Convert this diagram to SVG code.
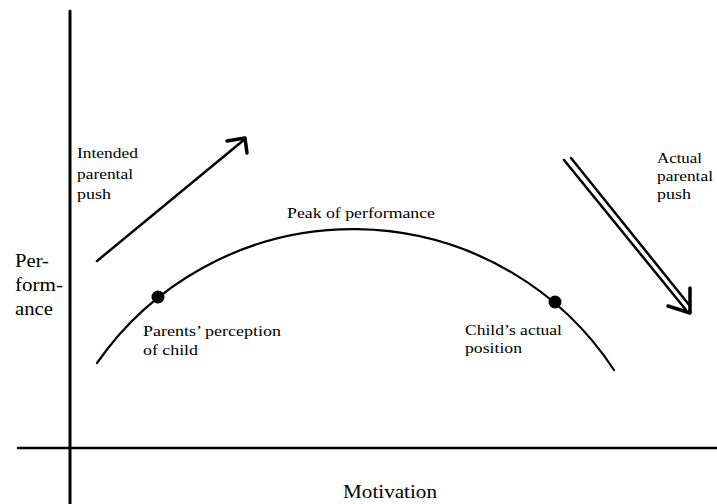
<svg xmlns="http://www.w3.org/2000/svg" width="717" height="504" viewBox="0 0 717 504">
  <style>
    .ln { fill: none; stroke: #000; stroke-linecap: round; stroke-linejoin: round; }
    .sm { font-family: "Liberation Serif", "Times New Roman", serif; font-size: 15px; fill: #000; }
    .lg { font-family: "Liberation Serif", "Times New Roman", serif; font-size: 18px; fill: #000; }
    .dot { fill: #000; }
  </style>
  <rect width="717" height="504" fill="#fff"/>
  <g id="axes">
    <line class="ln" x1="70" y1="11" x2="70" y2="504" stroke-width="3"/>
    <line class="ln" x1="18" y1="448" x2="717" y2="448" stroke-width="2.5"/>
  </g>
  <g id="axis-labels">
    <text class="lg" x="15" y="267" textLength="34" lengthAdjust="spacingAndGlyphs">Per-</text>
    <text class="lg" x="15" y="291" textLength="48" lengthAdjust="spacingAndGlyphs">form-</text>
    <text class="lg" x="15" y="315" textLength="38" lengthAdjust="spacingAndGlyphs">ance</text>
    <text class="lg" x="343" y="498" textLength="94" lengthAdjust="spacingAndGlyphs">Motivation</text>
  </g>
  <g id="curve">
    <path class="ln" d="M97,363 A312,312 0 0 1 614,370" stroke-width="2.2"/>
    <text class="sm" x="287" y="218" textLength="148" lengthAdjust="spacingAndGlyphs">Peak of performance</text>
  </g>
  <g id="parents-perception">
    <circle class="dot" cx="158" cy="297" r="6.5"/>
    <text class="sm" x="143" y="336" textLength="138" lengthAdjust="spacingAndGlyphs">Parents’ perception</text>
    <text class="sm" x="143" y="355" textLength="55" lengthAdjust="spacingAndGlyphs">of child</text>
  </g>
  <g id="child-position">
    <circle class="dot" cx="555" cy="302" r="6.5"/>
    <text class="sm" x="465" y="335" textLength="97" lengthAdjust="spacingAndGlyphs">Child’s actual</text>
    <text class="sm" x="465" y="353" textLength="57" lengthAdjust="spacingAndGlyphs">position</text>
  </g>
  <g id="intended-label">
    <text class="sm" x="77" y="158" textLength="61" lengthAdjust="spacingAndGlyphs">Intended</text>
    <text class="sm" x="77" y="179" textLength="56" lengthAdjust="spacingAndGlyphs">parental</text>
    <text class="sm" x="77" y="199" textLength="34" lengthAdjust="spacingAndGlyphs">push</text>
  </g>
  <g id="actual-label">
    <text class="sm" x="657" y="163" textLength="45" lengthAdjust="spacingAndGlyphs">Actual</text>
    <text class="sm" x="657" y="181" textLength="56" lengthAdjust="spacingAndGlyphs">parental</text>
    <text class="sm" x="657" y="199" textLength="34" lengthAdjust="spacingAndGlyphs">push</text>
  </g>
  <g id="connectors">
    <g id="intended-arrow">
      <line class="ln" x1="97" y1="261" x2="245" y2="139" stroke-width="2.5"/>
      <polyline class="ln" points="227,141 245,138 247,153" stroke-width="3.5"/>
    </g>
    <g id="actual-arrow">
      <line class="ln" x1="564" y1="160" x2="686" y2="310" stroke-width="2.5"/>
      <line class="ln" x1="571" y1="158" x2="690" y2="306" stroke-width="2.5"/>
      <polyline class="ln" points="668,306 690,313 690,288" stroke-width="3.5"/>
    </g>
  </g>
</svg>
